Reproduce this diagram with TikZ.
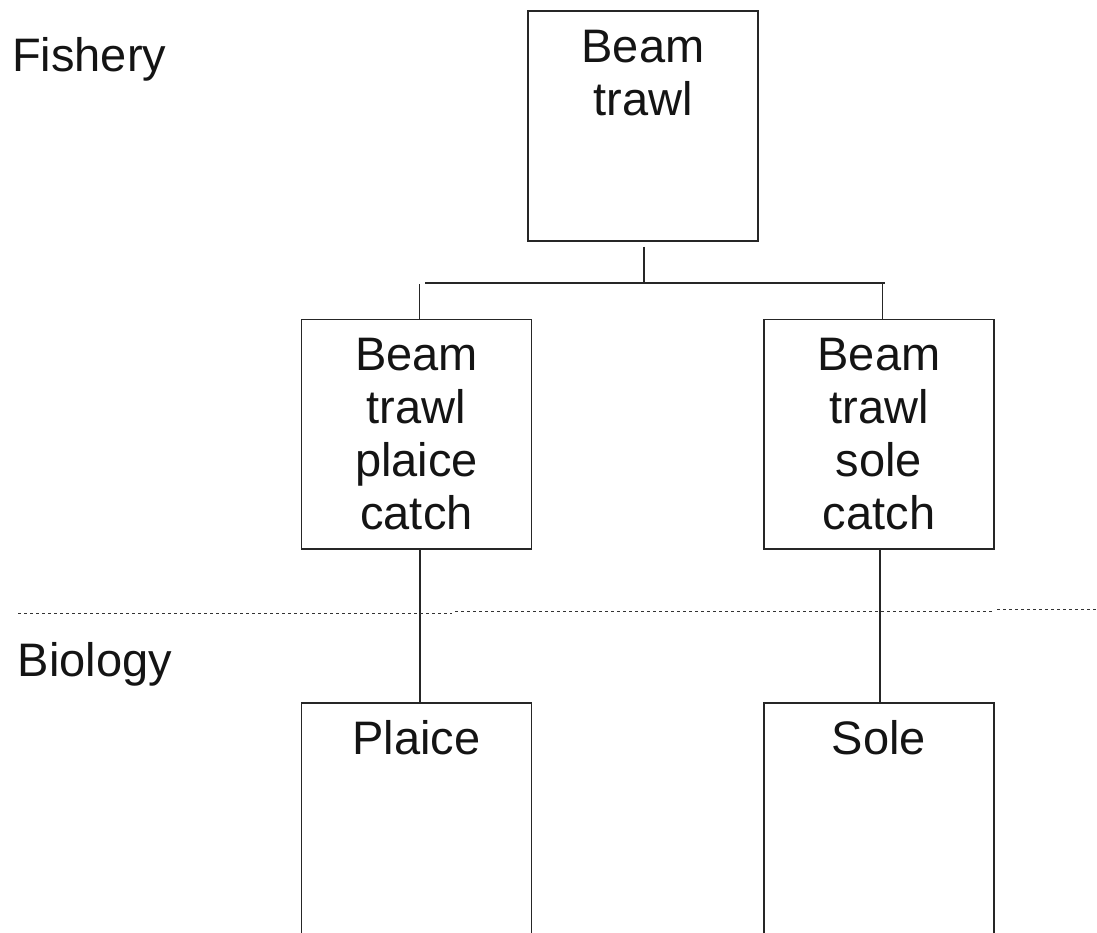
\documentclass[tikz,border=0pt]{standalone}
\usepackage{fontspec}
\setmainfont{Liberation Sans}
\begin{document}
\begin{tikzpicture}[x=1pt,y=-1pt,
  box/.style={draw=black!85,line width=1.2pt,rectangle,inner sep=0pt,
    minimum width=230pt},
  % captions sit on the baseline of their last line
  boxtext/.style={anchor=base,inner sep=0pt,align=center,text=black!92,
    font=\fontsize{47}{53}\selectfont},
  side/.style={anchor=base west,inner sep=0pt,text=black!92,
    font=\fontsize{47}{53}\selectfont},
  link/.style={draw=black!85,line width=1.2pt},
  divider/.style={draw=black!80,line width=1.3pt,dash pattern=on 3pt off 3pt}]
\useasboundingbox (0,0) rectangle (1097,933);

% side headings
\node[side] (fishery) at (12,71.7) {Fishery};
\node[side] (biology) at (17.5,676.7) {Biology};

% boxes
\node[box,minimum height=230pt] (beam) at (643,126) {};
\node[box,minimum height=229.5pt] (plaicecatch) at (416.5,434.25) {};
\node[box,minimum height=229.5pt] (solecatch) at (879,434.25) {};
\node[box,minimum height=257pt] (plaice) at (416.5,831.5) {};
\node[box,minimum height=257pt] (sole) at (879,831.5) {};

% box captions (first baseline about 52pt below the box top, 53pt per line)
\node[boxtext] (beamtext) at ([yshift=-105pt]beam.north) {Beam\\trawl};
\node[boxtext] (plaicecatchtext) at ([yshift=-211pt]plaicecatch.north) {Beam\\trawl\\plaice\\catch};
\node[boxtext] (solecatchtext) at ([yshift=-211pt]solecatch.north) {Beam\\trawl\\sole\\catch};
\node[boxtext] (plaicetext) at ([yshift=-52pt]plaice.north) {Plaice};
\node[boxtext] (soletext) at ([yshift=-52pt]sole.north) {Sole};

% branching connector
\coordinate (j) at (644,283);
\coordinate (hl) at (425,283);
\coordinate (hr) at (885,283);
\coordinate (vl) at (419.3,284);
\coordinate (vr) at (882.7,283);
\draw[link] ([xshift=1pt,yshift=-5pt]beam.south) -- (j);
\draw[link] (hl) -- (hr);
\draw[link] (vl) -- (vl |- plaicecatch.north);
\draw[link] (vr) -- (vr |- solecatch.north);

% links down to the stocks
\draw[link] ([xshift=3.5pt]plaicecatch.south) -- ([xshift=3.5pt]plaice.north);
\draw[link] ([xshift=1pt]solecatch.south) -- ([xshift=1pt]sole.north);

% dotted divider between fishery and biology
\draw[divider] (18,613.3) -- (452,613.3);
\draw[divider] (455,611.5) -- (994,611.5);
\draw[divider] (997,609.5) -- (1097,609.5);
\end{tikzpicture}
\end{document}
